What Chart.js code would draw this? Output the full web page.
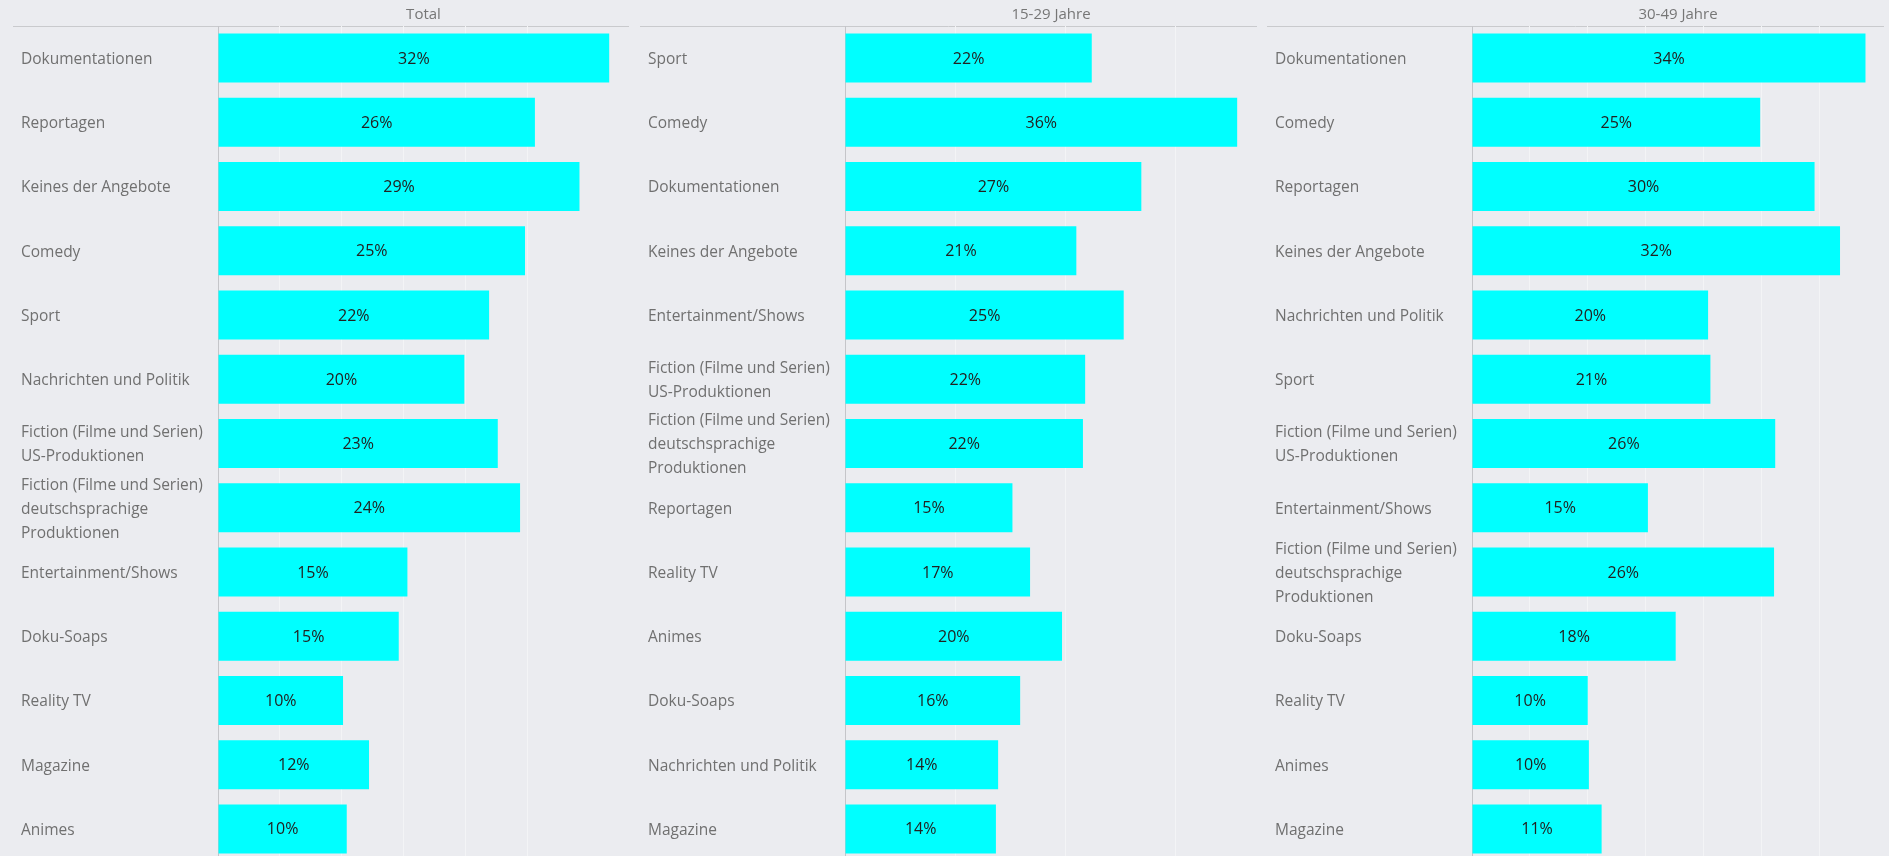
<!DOCTYPE html>
<html>
<head>
<meta charset="utf-8">
<script src="https://cdn.jsdelivr.net/npm/chart.js@4/dist/chart.umd.min.js"></script>
<style>
  html, body { margin: 0; padding: 0; background: #ebecf0; overflow: hidden; width: 1889px; height: 856px; }
  canvas { position: absolute; top: 0; }
</style>
</head>
<body>
<canvas id="c0" width="616" height="861" style="left:13px"></canvas>
<canvas id="c1" width="617" height="861" style="left:640px"></canvas>
<canvas id="c2" width="617" height="861" style="left:1267px"></canvas>
<script>
// ---- data ----
const titles = ['Total', '15-29 Jahre', '30-49 Jahre'];

const fictionUS = ['Fiction (Filme und Serien)', 'US-Produktionen'];
const fictionDE = ['Fiction (Filme und Serien)', 'deutschsprachige', 'Produktionen'];

const totalLabels = ['Dokumentationen', 'Reportagen', 'Keines der Angebote', 'Comedy', 'Sport',
  'Nachrichten und Politik', fictionUS, fictionDE, 'Entertainment/Shows', 'Doku-Soaps',
  'Reality TV', 'Magazine', 'Animes'];
const totalValues = [31.6, 25.6, 29.2, 24.8, 21.9, 19.9, 22.6, 24.4, 15.3, 14.6, 10.1, 12.2, 10.4];

const labels1529 = ['Sport', 'Comedy', 'Dokumentationen', 'Keines der Angebote', 'Entertainment/Shows',
  fictionUS, fictionDE, 'Reportagen', 'Reality TV', 'Animes', 'Doku-Soaps',
  'Nachrichten und Politik', 'Magazine'];
const values1529 = [22.4, 35.6, 26.9, 21.0, 25.3, 21.8, 21.6, 15.2, 16.8, 19.7, 15.9, 13.9, 13.7];

const labels3049 = ['Dokumentationen', 'Comedy', 'Reportagen', 'Keines der Angebote',
  'Nachrichten und Politik', 'Sport', fictionUS, 'Entertainment/Shows', fictionDE,
  'Doku-Soaps', 'Reality TV', 'Animes', 'Magazine'];
const values3049 = [34.0, 24.9, 29.6, 31.8, 20.4, 20.6, 26.2, 15.2, 26.1, 17.6, 10.0, 10.1, 11.2];

// axis settings per panel
const axisMax = [33.2, 37.4, 35.6];
const gridStep = [5, 10, 5];

// ---- plugins ----
const headerPlugin = {
  id: 'header',
  beforeDraw(chart, args, opts) {
    const { ctx, chartArea } = chart;
    ctx.save();
    ctx.strokeStyle = '#c9cacd';
    ctx.lineWidth = 1;
    ctx.beginPath();
    ctx.moveTo(0, 26.5);
    ctx.lineTo(chartArea.right, 26.5);
    ctx.stroke();
    ctx.fillStyle = '#767676';
    ctx.font = '15px "Open Sans"';
    ctx.textAlign = 'center';
    ctx.textBaseline = 'middle';
    ctx.fillText(opts.text, (chartArea.left + chartArea.right) / 2, 15);
    ctx.restore();
  }
};

const valueLabels = {
  id: 'valueLabels',
  afterDatasetsDraw(chart) {
    const { ctx } = chart;
    const meta = chart.getDatasetMeta(0);
    const data = chart.data.datasets[0].data;
    ctx.save();
    ctx.font = '16px "Open Sans"';
    ctx.fillStyle = '#222';
    ctx.textAlign = 'center';
    ctx.textBaseline = 'middle';
    meta.data.forEach((bar, i) => {
      ctx.fillText(Math.round(data[i]) + '%', (bar.x + bar.base) / 2, bar.y + 1);
    });
    ctx.restore();
  }
};

const makeChart = (id, title, labels, values, max, step) => new Chart(document.getElementById(id), {
  type: 'bar',
  data: {
    labels: labels,
    datasets: [{
      data: values,
      backgroundColor: '#00ffff',
      borderWidth: 0,
      categoryPercentage: 1,
      barPercentage: 0.763
    }]
  },
  options: {
    indexAxis: 'y',
    responsive: false,
    animation: false,
    layout: { padding: { top: 26, left: 8, right: 0, bottom: 0 } },
    plugins: {
      legend: { display: false },
      tooltip: { enabled: false },
      header: { text: title }
    },
    scales: {
      x: {
        min: 0,
        max: max,
        ticks: { display: false, stepSize: step },
        border: { display: false },
        grid: {
          drawTicks: false,
          lineWidth: 1,
          color: (c) => (c.tick && c.tick.value > 0 && c.tick.value % step === 0) ? '#f3f4f6' : 'transparent'
        }
      },
      y: {
        afterFit: (scale) => {
          scale.width = 197;
          scale.paddingTop = 0;
          scale.paddingBottom = 0;
        },
        grid: { display: false, drawTicks: false },
        border: { display: true, color: '#c4c5c9', dash: [3, 3], width: 1 },
        ticks: {
          autoSkip: false,
          crossAlign: 'far',
          labelOffset: 1.5,
          color: '#707070',
          font: { family: '"Open Sans"', size: 15.5, lineHeight: 1.55 }
        }
      }
    }
  },
  plugins: [headerPlugin, valueLabels]
});

makeChart('c0', titles[0], totalLabels, totalValues, axisMax[0], gridStep[0]);
makeChart('c1', titles[1], labels1529, values1529, axisMax[1], gridStep[1]);
makeChart('c2', titles[2], labels3049, values3049, axisMax[2], gridStep[2]);
</script>
</body>
</html>
